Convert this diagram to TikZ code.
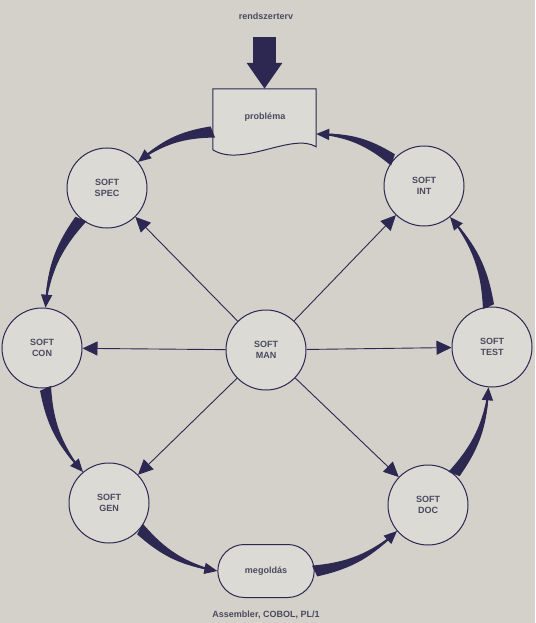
\documentclass[tikz,border=0pt]{standalone}
\usepackage{fontspec}
\setsansfont{Liberation Sans}
\usetikzlibrary{arrows.meta,calc,shapes.misc}
\definecolor{bg}{HTML}{D3D1C9}
\definecolor{ink}{HTML}{2C2852}
\definecolor{txt}{HTML}{4A4A60}
\tikzset{
  lbl/.style={font=\sffamily\bfseries\fontsize{9}{11.5}\selectfont, text=txt, align=center},
  soft/.style={lbl, circle, draw=ink, line width=1pt, fill=bg!80!white, minimum size=80pt, inner sep=0pt},
  radial/.style={draw=ink, line width=0.9pt, -{Triangle[length=15pt,width=14pt]}},
  ringline/.style={draw=ink, line width=1.6pt, -{Triangle[length=13pt,width=11pt]}},
  ringfill/.style={fill=ink}
}
\newcommand\ringarrow[2]{%
  \fill[ringfill] ($(#1)!6pt!90:(#2)$) to[bend right=17] (#2) to[bend left=17] ($(#1)!6pt!-90:(#2)$) -- cycle;
  \draw[ringline] (#1) to[bend right=17] (#2);
}
\begin{document}
\begin{tikzpicture}[x=1pt,y=1pt]
\fill[bg] (0,0) rectangle (535,-623);
\useasboundingbox (0,0) rectangle (535,-623);

% top label and problem document
\node[lbl] (rend) at (266,-16) {rendszerterv};
\node[lbl, minimum width=103pt, minimum height=62pt, inner sep=0pt] (prob) at (264.5,-120) {};
\draw[ink, line width=1pt, fill=bg!80!white] (prob.north west) -- (prob.north east) -- ([yshift=-58pt]prob.north east)
  .. controls (292,-132) and (242,-168) .. ([yshift=-61pt]prob.north west) -- cycle;
\node[lbl] at (265,-117) {probléma};
\draw[ink, line width=23pt, shorten <=14pt, -{Triangle[length=26pt,width=34pt]}] (rend.south -| prob.north) -- (prob.north);

% circles
\node[soft] (man)  at (266,-350) {SOFT\\MAN};
\node[soft] (spec) at (107,-188) {SOFT\\SPEC};
\node[soft] (int)  at (424,-186) {SOFT\\INT};
\node[soft] (con)  at (42,-348)  {SOFT\\CON};
\node[soft] (test) at (492,-347) {SOFT\\TEST};
\node[soft] (gen)  at (109,-503) {SOFT\\GEN};
\node[soft] (doc)  at (428,-505) {SOFT\\DOC};

% solution
\node[lbl, rounded rectangle, draw=ink, line width=1pt, fill=bg!80!white, minimum width=103pt, minimum height=53pt] (megold) at (266,-571) {megoldás};
\node[lbl] (lang) at (266,-615) {Assembler, COBOL, PL/1};

% radial arrows
\foreach \t in {spec,int,con,test,gen,doc} \draw[radial] (man) -- (\t);

% ring arrows
\ringarrow{$(prob.west)+(0,-12)$}{spec.40}
\ringarrow{spec.230}{con.85}
\ringarrow{con.275}{gen.130}
\ringarrow{gen.320}{megold.west}
\ringarrow{megold.east}{doc.220}
\ringarrow{doc.50}{test.265}
\ringarrow{test.95}{int.310}
\ringarrow{int.140}{$(prob.east)+(0,-14)$}
\end{tikzpicture}
\end{document}
